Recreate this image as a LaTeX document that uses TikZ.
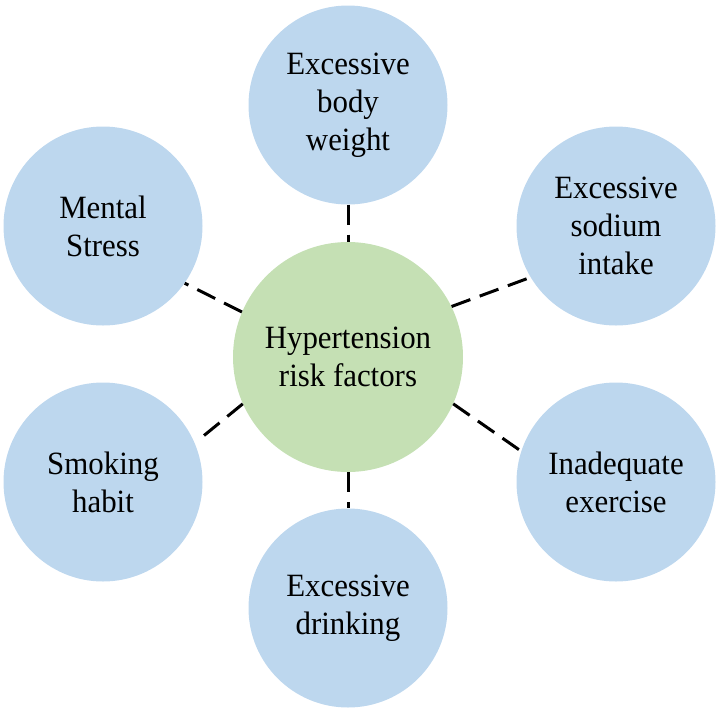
\documentclass[tikz,border=0pt]{standalone}
\usepackage{fontspec}
\setmainfont{Liberation Serif}[FakeStretch=0.95]
\definecolor{bluefill}{HTML}{BDD7EE}
\definecolor{greenfill}{HTML}{C5E0B4}
\begin{document}
\begin{tikzpicture}[x=1pt,y=-1pt,
  factor/.style={circle,fill=bluefill,minimum size=199pt,inner sep=0pt,align=center,
    font=\fontsize{32.5}{38}\selectfont},
  hub/.style={circle,fill=greenfill,minimum size=230pt,inner sep=0pt,align=center,
    font=\fontsize{32.5}{38}\selectfont},
  link/.style={line width=3pt,dash pattern=on 20pt off 10pt}]
\useasboundingbox (0,0) rectangle (720,710);
\node[hub] (c) at (348,357) {Hypertension\\risk factors};
\node[factor] (bw) at (348,105) {Excessive\\body\\weight};
\node[factor] (ms) at (103,226) {Mental\\Stress};
\node[factor] (si) at (616,226) {Excessive\\sodium\\intake};
\node[factor] (sh) at (103,482) {Smoking\\habit};
\node[factor] (ie) at (616,482) {Inadequate\\exercise};
\node[factor] (dr) at (348,608) {Excessive\\drinking};
\draw[link] (bw.south) -- (c.north);
\draw[link] (c.south) -- (dr.north);
\draw[link] (c.157) -- (ms.-35);
\draw[link] (c.26) -- (si.211);
\draw[link,shorten >=10pt] (c.204) -- (sh.23);
\draw[link] (c.-24) -- (ie.162);
\end{tikzpicture}
\end{document}
